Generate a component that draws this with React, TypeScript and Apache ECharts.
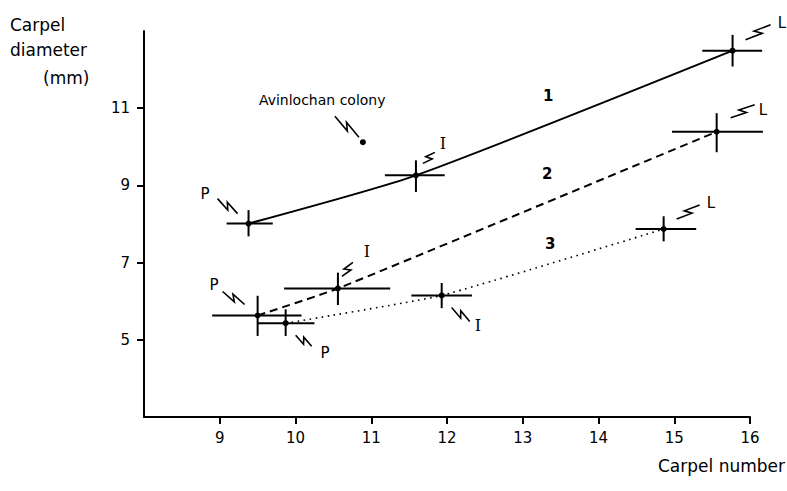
import React, { useEffect, useRef } from "react";
import * as echarts from "echarts";

// ---- data ----
const stages = ["P", "I", "L"];
const xTickValues = [9, 10, 11, 12, 13, 14, 15, 16];
const yTickValues = [5, 7, 9, 11];

// curve 1 (solid)
const curve1 = [[9.38, 8.01], [11.59, 9.26], [15.77, 12.49]];
const curve1XRange = [[9.09, 9.7], [11.18, 11.97], [15.37, 16.16]];
const curve1YRange = [[7.68, 8.36], [8.83, 9.65], [12.08, 12.9]];

// curve 2 (dashed)
const curve2 = [[9.5, 5.63], [10.56, 6.33], [15.56, 10.39]];
const curve2XRange = [[8.9, 10.08], [9.85, 11.25], [14.97, 16.17]];
const curve2YRange = [[5.1, 6.14], [5.9, 6.74], [9.86, 10.87]];

// curve 3 (dotted)
const curve3 = [[9.87, 5.43], [11.93, 6.15], [14.86, 7.87]];
const curve3XRange = [[9.5, 10.25], [11.53, 12.33], [14.49, 15.29]];
const curve3YRange = [[5.1, 5.79], [5.82, 6.47], [7.55, 8.2]];

const avinlochan = [[10.89, 10.12]];

// ---- styling / annotation offsets (pixels relative to each point) ----
const FONT = "DejaVu Sans";
const stageFonts = [`15px "${FONT}"`, `16px "DejaVu Serif"`, `15px "${FONT}"`];
type Ann = { label: number[]; from: number[]; to: number[] };
const ann1: Ann[] = [
  { label: [-44, -30], from: [-31, -25], to: [-11, -10] },
  { label: [27, -32], from: [7, -12], to: [19, -23] },
  { label: [49, -28], from: [13, -11], to: [38, -26] },
];
const ann2: Ann[] = [
  { label: [-44, -30], from: [-35, -24], to: [-13, -11] },
  { label: [29, -37], from: [4, -12], to: [15, -26] },
  { label: [46, -22], from: [14, -14], to: [38, -27] },
];
const ann3: Ann[] = [
  { label: [39, 30], from: [10, 12], to: [26, 23] },
  { label: [36, 30], from: [10, 12], to: [28, 26] },
  { label: [47, -26], from: [13, -10], to: [36, -24] },
];

function squiggle(sx: number, sy: number, ex: number, ey: number) {
  const dx = ex - sx;
  const dy = ey - sy;
  const len = Math.hypot(dx, dy) || 1;
  const nx = -dy / len;
  const ny = dx / len;
  const k = 3;
  return [
    [sx, sy],
    [sx + dx * 0.6 + nx * k, sy + dy * 0.6 + ny * k],
    [sx + dx * 0.4 - nx * k, sy + dy * 0.4 - ny * k],
    [ex, ey],
  ];
}

function buildBars(pts: number[][], xr: number[][], yr: number[][]) {
  return pts.map((p, i) => [p[0], p[1], xr[i][0], xr[i][1], yr[i][0], yr[i][1]]);
}

function errorSeries(data: number[][], anns: Ann[]) {
  return {
    type: "custom",
    clip: false,
    data,
    encode: { x: [0, 2, 3], y: [1, 4, 5] },
    z: 5,
    renderItem: (params: any, api: any) => {
      const c = api.coord([api.value(0), api.value(1)]);
      const l = api.coord([api.value(2), api.value(1)]);
      const r = api.coord([api.value(3), api.value(1)]);
      const b = api.coord([api.value(0), api.value(4)]);
      const t = api.coord([api.value(0), api.value(5)]);
      const a = anns[params.dataIndex];
      return {
        type: "group",
        children: [
          { type: "line", shape: { x1: l[0], y1: c[1], x2: r[0], y2: c[1] }, style: { stroke: "#000", lineWidth: 2 } },
          { type: "line", shape: { x1: c[0], y1: b[1], x2: c[0], y2: t[1] }, style: { stroke: "#000", lineWidth: 2 } },
          { type: "circle", shape: { cx: c[0], cy: c[1], r: 3 }, style: { fill: "#000", stroke: "none" } },
          {
            type: "polyline",
            shape: { points: squiggle(c[0] + a.from[0], c[1] + a.from[1], c[0] + a.to[0], c[1] + a.to[1]) },
            style: { stroke: "#000", lineWidth: 1.6, fill: null },
          },
          {
            type: "text",
            style: {
              text: stages[params.dataIndex],
              x: Math.round(c[0] + a.label[0]),
              y: Math.round(c[1] + a.label[1]),
              fill: "#000",
              stroke: "none",
              lineWidth: 0,
              font: stageFonts[params.dataIndex],
              align: "center",
              verticalAlign: "middle",
            },
          },
        ],
      };
    },
  };
}

export default function App() {
  const ref = useRef<HTMLDivElement>(null);
  useEffect(() => {
    if (!ref.current) return;
    const chart = echarts.init(ref.current, null, { renderer: "svg" });
    const axisCommon = {
      type: "value",
      interval: 1,
      splitLine: { show: false },
      axisLine: { show: true, onZero: false, lineStyle: { color: "#000", width: 2 } },
    };
    const option: any = {
      animation: false,
      backgroundColor: "#fff",
      grid: { left: 144, right: 37, top: 31, bottom: 74 },
      xAxis: {
        ...axisCommon,
        min: 8,
        max: 16,
        axisTick: { show: true, length: 7, lineStyle: { color: "#000", width: 2 }, customValues: xTickValues },
        axisLabel: { customValues: xTickValues, color: "#000", fontSize: 15, margin: 13, fontFamily: FONT },
      },
      yAxis: {
        ...axisCommon,
        min: 3,
        max: 13,
        axisTick: { show: true, length: 7, lineStyle: { color: "#000", width: 2 }, customValues: yTickValues },
        axisLabel: { customValues: yTickValues, color: "#000", fontSize: 15, margin: 14, fontFamily: FONT },
      },
      graphic: [
        { type: "text", left: 10, top: 16, style: { text: "Carpel", font: `17px "${FONT}"`, fill: "#000" } },
        { type: "text", left: 10, top: 41, style: { text: "diameter", font: `17px "${FONT}"`, fill: "#000" } },
        { type: "text", left: 43, top: 69, style: { text: "(mm)", font: `17px "${FONT}"`, fill: "#000" } },
        { type: "text", right: 2, top: 457, style: { text: "Carpel number", font: `17px "${FONT}"`, fill: "#000" } },
        { type: "text", left: 543, top: 88, style: { text: "1", font: `bold 15px "${FONT}"`, fill: "#000" } },
        { type: "text", left: 542, top: 166, style: { text: "2", font: `bold 15px "${FONT}"`, fill: "#000" } },
        { type: "text", left: 545, top: 236, style: { text: "3", font: `bold 15px "${FONT}"`, fill: "#000" } },
      ],
      series: [
        {
          type: "line",
          data: curve1,
          smooth: 0.2,
          showSymbol: false,
          lineStyle: { color: "#000", width: 2 },
        },
        {
          type: "line",
          data: curve2,
          smooth: 0.15,
          showSymbol: false,
          lineStyle: { color: "#000", width: 2, type: [8, 5] },
        },
        {
          type: "line",
          data: curve3,
          smooth: 0.15,
          showSymbol: false,
          lineStyle: { color: "#000", width: 1.6, type: [1.6, 4.5] },
        },
        errorSeries(buildBars(curve1, curve1XRange, curve1YRange), ann1),
        errorSeries(buildBars(curve2, curve2XRange, curve2YRange), ann2),
        errorSeries(buildBars(curve3, curve3XRange, curve3YRange), ann3),
        {
          type: "custom",
          clip: false,
          data: avinlochan,
          renderItem: (_p: any, api: any) => {
            const c = api.coord([api.value(0), api.value(1)]);
            return {
              type: "group",
              children: [
                { type: "circle", shape: { cx: c[0], cy: c[1], r: 3 }, style: { fill: "#000", stroke: "none" } },
                {
                  type: "polyline",
                  shape: { points: squiggle(c[0] - 28, c[1] - 26, c[0] - 4, c[1] - 5) },
                  style: { stroke: "#000", lineWidth: 1.6, fill: null },
                },
                {
                  type: "text",
                  style: {
                    text: "Avinlochan colony",
                    x: c[0] - 104,
                    y: c[1] - 42,
                    fill: "#000",
                    stroke: "none",
                    lineWidth: 0,
                    font: `14px "${FONT}"`,
                    align: "left",
                    verticalAlign: "middle",
                  },
                },
              ],
            };
          },
        },
      ],
    };
    chart.setOption(option);
    return () => chart.dispose();
  }, []);
  return (
    <div
      ref={ref}
      style={{ position: "fixed", left: 0, top: 0, width: 787, height: 491, background: "#fff" }}
    />
  );
}
